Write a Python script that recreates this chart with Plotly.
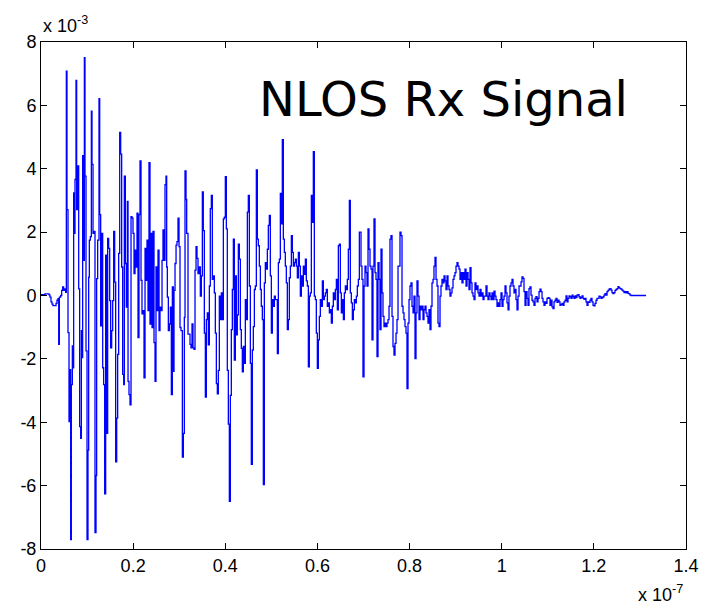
import plotly.graph_objects as go

# Time of each sample, in ns
t_ns = [
 0.00, 0.43, 0.87, 1.30, 1.74, 1.95, 2.17, 2.39, 2.60, 3.04, 3.26, 3.47, 3.69, 3.84, 3.98, 4.27, 4.49, 4.70, 4.92, 5.14, 5.35,
 5.50, 5.64, 5.86, 6.08, 6.30, 6.44, 6.58, 6.80, 6.95, 7.09, 7.24, 7.38, 7.60, 7.74, 7.96, 8.18, 8.39, 8.61, 8.76, 8.90,
 9.04, 9.19, 9.41, 9.55, 9.77, 9.99, 10.20, 10.35, 10.49, 10.71, 10.93, 11.07, 11.29, 11.51, 11.72, 11.94, 12.08, 12.30,
 12.59, 12.74, 12.95, 13.17, 13.39, 13.60, 13.82, 14.04, 14.25, 14.47, 14.69, 14.91, 15.12, 15.34, 15.56, 15.77, 15.99,
 16.21, 16.43, 16.64, 16.86, 17.08, 17.29, 17.51, 17.73, 17.95, 18.09, 18.31, 18.52, 18.74, 18.89, 19.10, 19.32, 19.54,
 19.75, 19.97, 20.19, 20.41, 20.62, 20.84, 21.06, 21.27, 21.49, 21.71, 21.92, 22.14, 22.36, 22.58, 22.79, 23.01, 23.23,
 23.44, 23.66, 23.88, 24.10, 24.31, 24.53, 24.75, 24.96, 25.18, 25.40, 25.62, 25.83, 26.05, 26.27, 26.48, 26.70, 26.92,
 27.13, 27.28, 27.42, 27.64, 27.86, 28.08, 28.29, 28.51, 28.73, 28.87, 29.09, 29.31, 29.52, 29.74, 29.96, 30.17, 30.39,
 30.68, 30.90, 31.11, 31.26, 31.48, 31.62, 31.91, 32.13, 32.34, 32.56, 32.78, 32.99, 33.21, 33.43, 33.65, 33.86, 34.08, 34.30,
 34.58, 34.80, 35.02, 35.23, 35.45, 35.67, 35.89, 36.10, 36.32, 36.54, 36.75, 36.97, 37.19, 37.41, 37.62, 37.84, 38.06,
 38.27, 38.49, 38.71, 38.92, 39.14, 39.36, 39.58, 39.79, 40.01, 40.23, 40.44, 40.66, 40.88, 41.10, 41.31, 41.53, 41.75,
 41.96, 42.18, 42.40, 42.61, 42.83, 43.05, 43.27, 43.48, 43.70, 43.92, 44.13, 44.35, 44.57, 44.79, 45.00, 45.22, 45.44,
 45.65, 45.87, 46.09, 46.31, 46.52, 46.74, 46.96, 47.17, 47.39, 47.61, 47.82, 48.04, 48.26, 48.48, 48.69, 48.91, 49.13,
 49.34, 49.56, 49.78, 50.00, 50.21, 50.43, 50.65, 50.86, 51.08, 51.30, 51.52, 51.73, 51.95, 52.17, 52.38, 52.60, 52.82,
 53.03, 53.25, 53.47, 53.69, 53.90, 54.12, 54.34, 54.55, 54.77, 54.99, 55.21, 55.42, 55.64, 55.86, 56.07, 56.29, 56.51,
 56.72, 56.94, 57.16, 57.38, 57.59, 57.81, 58.03, 58.24, 58.46, 58.68, 58.90, 59.11, 59.33, 59.55, 59.76, 59.98, 60.20,
 60.42, 60.63, 60.85, 61.07, 61.28, 61.50, 61.72, 61.93, 62.15, 62.37, 62.59, 62.80, 63.02, 63.24, 63.45, 63.67, 63.89,
 64.11, 64.32, 64.54, 64.76, 64.97, 65.19, 65.41, 65.63, 65.84, 66.06, 66.28, 66.49, 66.71, 66.93, 67.14, 67.36, 67.58,
 67.79, 68.01, 68.23, 68.45, 68.66, 68.88, 69.10,
 69.46, 69.67, 69.89, 70.11, 70.33, 70.54, 70.76, 70.98, 71.19, 71.41, 71.63, 71.85, 72.06, 72.28, 72.50, 72.71, 72.93,
 73.15, 73.37, 73.58, 73.80, 74.02, 74.23, 74.45, 74.67, 74.88, 75.10, 75.32, 75.54, 75.75, 75.97, 76.19, 76.40, 76.62,
 76.84, 77.06, 77.27, 77.49, 77.71, 77.92, 78.14, 78.36, 78.58, 78.79, 79.01, 79.23, 79.44, 79.66, 79.88, 80.09, 80.31,
 80.53, 80.75, 80.96, 81.18, 81.40, 81.61, 81.83, 82.05, 82.27, 82.48, 82.70, 82.92, 83.13, 83.35, 83.57, 83.78, 84.00,
 84.22, 84.44, 84.65, 84.87, 85.09, 85.30, 85.52, 85.74, 85.96, 86.17, 86.39, 86.61, 86.82, 87.04, 87.26, 87.48, 87.69,
 87.91, 88.13, 88.34, 88.56, 88.78, 88.99, 89.21, 89.43, 89.65, 89.86, 90.08, 90.30, 90.51, 90.73, 90.95, 91.17, 91.38,
 91.60, 91.82, 92.03, 92.25, 92.47, 92.69, 92.90, 93.12, 93.34, 93.55, 93.77, 93.99, 94.20, 94.42, 94.64, 94.86, 95.07,
 95.29, 95.51, 95.72, 95.94, 96.16, 96.38, 96.59, 96.81, 97.03, 97.24, 97.46, 97.68, 97.89, 98.11, 98.33, 98.55, 98.76,
 98.98, 99.20, 99.41, 99.63, 99.85, 100.07, 100.28, 100.50, 100.72, 100.93, 101.15, 101.37, 101.58, 101.80, 102.02,
 102.24, 102.45, 102.67, 102.89, 103.10, 103.32, 103.54, 103.76,
 104.19, 104.40, 104.62, 104.84, 105.06, 105.27, 105.49, 105.71, 105.92, 106.14, 106.36, 106.58, 106.79, 107.01, 107.23,
 107.44, 107.66, 107.88, 108.10, 108.31, 108.53, 108.75, 108.96, 109.18, 109.40, 109.61, 109.83, 110.05, 110.27, 110.48,
 110.70, 110.92, 111.13, 111.35, 111.57, 111.79, 112.00, 112.22, 112.44, 112.65, 112.87, 113.09, 113.31, 113.52, 113.74,
 113.96, 114.17, 114.39, 114.61, 114.82, 115.04, 115.26, 115.48, 115.69, 115.91, 116.13, 116.34, 116.56, 116.78, 117.00,
 117.21, 117.43, 117.65, 117.86, 118.08, 118.30, 118.52, 118.73, 118.95, 119.17, 119.38, 119.60, 119.82, 120.03, 120.25,
 120.47, 120.69, 120.90, 121.12, 121.34, 121.55, 121.77, 121.99, 122.21, 122.42, 122.64, 122.86, 123.07, 123.29, 123.51,
 123.72, 123.94, 124.16, 124.38, 124.59, 124.81, 125.03, 125.24, 125.46, 125.68, 125.90, 126.11, 126.33, 126.55, 126.76,
 126.98, 127.20, 127.41, 127.63, 127.85, 128.07, 131.32,
]

# Received signal amplitude, in units of 1e-3
v_e3 = [
 0.03, 0.03, 0.05, 0.05, 0.02, -0.05, -0.20, -0.27, -0.32, -0.32, -0.25, -0.15, -0.10, -1.54, -0.05, 0.00, 0.16, 0.27, 0.16, 0.21, 0.10,
 7.08, 2.71, -1.17, -3.98, -2.34, -7.70, -2.81, -1.59, -2.28, 3.24, 1.96, 3.66, 6.79, 2.71, 4.09, 0.21, -4.14, -4.51, -1.11, -1.96,
 4.41, 1.11, 7.51, 3.77, -1.75, -7.70, -4.88, 0.58, 1.75, 1.86, 5.82, 4.14, 1.96, 2.02, -7.48, -5.68, 0.53, 1.75,
 6.21, 2.55, -0.96, 1.96, -2.28, -2.81, -6.26, 1.27, -4.35, 1.80, 1.49, -0.16, -1.65, -1.11, -0.16, 2.02, 0.42,
 -5.25, -3.87, -1.86, 1.33, 5.15, 4.46, 0.90, -2.49, -2.81, 3.77, 1.01, -0.37, 2.97, -2.71, -3.13, -3.45, 2.49,
 2.44, 1.96, 0.69, 1.43, 0.90, 2.60, -1.33, 2.55, 4.25, 0.48, -0.58, -0.48, -2.60, 1.49, 0.48, 1.75, -0.48,
 4.19, -0.90, 1.96, -1.01, 2.02, -1.49, -2.71, 0.90, -0.48, 1.43, -1.11, -0.37, -0.48, 1.11, 2.07, 1.11, 3.50,
 3.77, 0.90, -0.05, -1.11, -0.90, -0.37, -3.13, 0.27, -2.39, 0.16, 1.01, 1.59, 1.70, 2.44, 1.54, -1.01, -1.11,
 -5.10, -4.35, -0.69, 3.93, 3.03, 1.96, -1.22, -1.22, -1.54, -1.65, -0.90, -1.65, -1.70, 0.80, 1.54, 1.17, 0.69, 0.90,
 -0.02, 0.62, 3.27, 2.05, -1.19, -3.21, -0.76, -0.55, -1.56, 0.30, 2.74, 3.16, 0.51, 0.62, 0.08, -1.19, -2.78,
 -3.10, -2.36, -0.02, -0.76, 0.08, -0.76, 2.42, 2.47, 3.75, 2.10, -2.36, -4.06, -6.50, -3.15, -1.08, 0.19, 1.78,
 -2.04, 0.62, -1.24, -0.61, 1.62, 1.15, -1.08, -1.67, -2.41, -1.61, -2.14, -0.13, -0.76, 2.63, 3.16, 0.30, -2.14,
 -5.33, -1.72, -0.98, 0.19, 0.30, 3.96, 1.78, 1.57, 0.93, 0.19, -0.34, -0.76, -5.97, 0.40, 1.04, 0.83, 1.46,
 2.21, 2.53, 0.62, -1.19, -0.13, -0.34, -0.02, -0.13, -0.13, -1.83, 1.04, 1.15, 3.22, 2.26, 4.92, 1.78, 1.36,
 0.93, 0.40, -1.08, -0.76, 0.56, 0.93, 1.89, 1.36, 0.93, 1.04, 1.15, 0.93, 0.56, 1.36, 0.93, -0.02, 0.62,
 0.30, 0.93, 0.67, 1.15, 0.46, 0.30, -2.25, -0.02, 0.08, 3.16, 2.31, 4.54, -0.02, -0.13, -1.19, -2.30, -1.40,
 -0.66, -0.13, -0.34, 0.46, -0.13, -0.02, 0.08, 0.19, -0.34, -0.23, -0.55, -0.45, -0.87, -0.34, 0.08, -0.13, 0.19,
 0.51, -0.45, 1.57, 1.62, 0.08, -0.55, -0.13, -0.76, 0.08, 0.30, 0.19, 0.51, 1.46, 3.00, 0.08, -0.23, -0.76,
 -0.45, -0.13, -0.23, -0.02, 0.30, 0.51, 2.00,
 0.93, 0.51, -2.57, 0.30, 0.93, 0.72, 0.30, 2.10, 1.46, 0.93, 0.83, -1.40, 0.93, 2.42, 0.72, 0.51, -1.93,
 1.04, 0.51, -1.08, 1.46, 0.08, -0.66, -0.98, -0.87, -0.98, -0.87, -0.76, -0.34, 1.78, 1.89, -0.66, -1.61, -1.88,
 -1.51, -1.19, -0.76, 0.93, 0.93, 2.00, 1.89, -0.34, -0.55, -0.76, -0.98, -1.19, -2.94, -0.87, -0.13, 0.30, 0.40,
 -0.34, -0.55, -0.02, -1.99, -0.55, 0.46, -0.02, -0.76, -0.34, -0.45, -0.34, -0.76, -0.45, -0.34, -0.55, -0.66, -0.87,
 -0.45, -1.08, -0.34, 0.40, 0.51, 0.93, 1.20, 0.51, 0.30, -0.87, -0.98, -0.02, 0.30, 0.51, 0.40, 0.62, 0.46,
 0.19, 0.62, 0.30, 0.19, -0.02, 0.08, 0.24, 0.51, 0.62, 0.72, 0.93, 1.04, 0.93, 0.83, 0.51, 0.72, 0.40,
 0.72, 0.51, 0.83, 0.30, 0.72, 0.51, 0.19, 0.88, 0.40, 0.08, -0.02, -0.13, 0.40, 0.19, 0.30, 0.08, -0.02,
 0.19, -0.02, 0.08, -0.13, -0.02, -0.02, 0.30, -0.02, -0.13, 0.08, -0.02, -0.13, 0.08, -0.13, 0.14, -0.02, -0.13,
 -0.34, -0.23, -0.34, -0.13, 0.08, -0.34, -0.13, -0.02, 0.30, 0.08, -0.23, -0.45, -0.02, 0.30, 0.40,
 0.51, 0.30, 0.08, 0.19, -0.13, -0.45, -0.02, 0.30,
 0.43, 0.59, 0.54, 0.12, -0.31, 0.12, -0.09, -0.31, 0.22, 0.27, 0.01, -0.15, -0.20, -0.31, -0.09,
 -0.04, -0.20, -0.09, 0.12, 0.20, 0.12, -0.09, -0.20, -0.31, -0.20, -0.25, -0.09, -0.07, -0.09, -0.31,
 -0.15, -0.36, -0.41, -0.20, -0.15, -0.09, -0.22, -0.15, -0.20, -0.31, -0.28, -0.25, -0.31, -0.20, -0.15,
 -0.01, -0.20, -0.09, -0.01, -0.04, -0.09, 0.01, -0.04, -0.09, -0.01, -0.07, 0.01, 0.03, -0.04, -0.09,
 -0.06, -0.01, -0.09, -0.12, -0.09, -0.20, -0.31, -0.20, -0.22, -0.15, -0.09, -0.20, -0.31, -0.33, -0.25,
 -0.15, -0.09, -0.09, -0.02, -0.04, -0.09, -0.07, -0.04, 0.01, 0.06, 0.01, 0.12, 0.16, 0.20, 0.22,
 0.17, 0.09, 0.06, 0.09, 0.16, 0.19, 0.22, 0.28, 0.24, 0.22, 0.20, 0.17, 0.14, 0.09, 0.12,
 0.08, 0.12, 0.07, 0.05, 0.01, 0.00, 0.00,
]

x_ticks = [0, 0.2, 0.4, 0.6, 0.8, 1.0, 1.2, 1.4]
x_tick_labels = ["0", "0.2", "0.4", "0.6", "0.8", "1", "1.2", "1.4"]
y_ticks = [-8, -6, -4, -2, 0, 2, 4, 6, 8]
y_tick_labels = ["-8", "-6", "-4", "-2", "0", "2", "4", "6", "8"]

x_units = [t / 100.0 for t in t_ns]   # in units of 1e-7 s

tick_font = dict(family="Liberation Sans, Arial, sans-serif", size=18, color="black")

fig = go.Figure()
fig.add_trace(go.Scatter(x=x_units, y=v_e3, mode="lines",
                         line=dict(color="#0000FF", width=1.3, shape="hv"),
                         hoverinfo="skip", showlegend=False))

axis_common = dict(showline=True, linecolor="black", linewidth=1, mirror="ticks",
                   ticks="inside", ticklen=6, tickcolor="black", tickwidth=1,
                   showgrid=False, zeroline=False, tickfont=tick_font)

fig.update_xaxes(range=[0, 1.4], tickvals=x_ticks, ticktext=x_tick_labels, **axis_common)
fig.update_yaxes(range=[-8, 8], tickvals=y_ticks, ticktext=y_tick_labels, **axis_common)

fig.update_layout(
    width=710, height=610,
    margin=dict(l=41, r=24, t=42, b=61),
    paper_bgcolor="white", plot_bgcolor="white",
    annotations=[
        dict(text="NLOS Rx Signal", xref="paper", yref="paper", x=0.624, y=0.888,
             xanchor="center", yanchor="middle", showarrow=False,
             font=dict(family="DejaVu Sans, Verdana, sans-serif", size=48, color="black")),
        dict(text="x 10<sup>-3</sup>", xref="paper", yref="paper", x=0.0, y=1.008,
             xanchor="left", yanchor="bottom", showarrow=False,
             font=tick_font),
        dict(text="x 10<sup>-7</sup>", xref="paper", yref="paper", x=0.922, y=-0.062,
             xanchor="left", yanchor="top", showarrow=False,
             font=tick_font),
    ],
)

fig.write_html("out.html")
